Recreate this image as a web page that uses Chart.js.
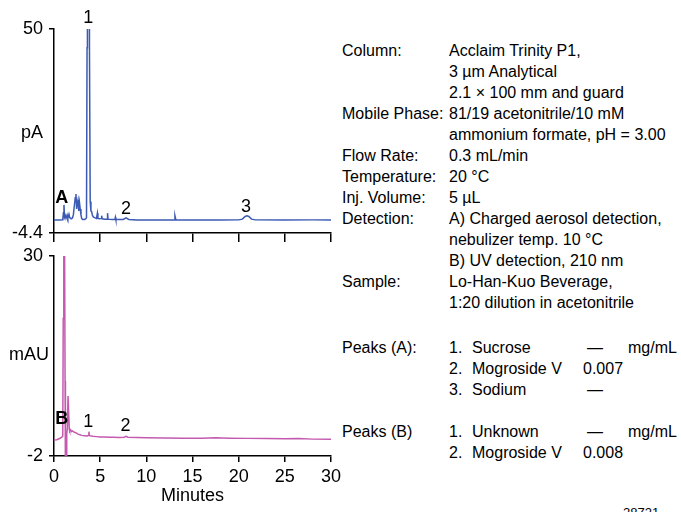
<!DOCTYPE html>
<html>
<head>
<meta charset="utf-8">
<script src="https://cdn.jsdelivr.net/npm/chart.js@4/dist/chart.umd.min.js"></script>
<style>
  html, body { margin: 0; padding: 0; background: #fff; }
  body { width: 681px; height: 512px; position: relative; overflow: hidden;
         font-family: "Liberation Sans", Arial, sans-serif; color: #000; }
  canvas { position: absolute; left: 0; }
  #topChart { top: 0; }
  #bottomChart { top: 245px; }
  .unit { position: absolute; font-size: 18px; line-height: 22px; }
  .panel { position: absolute; left: 342px; font-size: 16px; line-height: 21px; white-space: nowrap; }
  .cond { display: grid; grid-template-columns: 107px auto; }
  .peaks { display: grid; grid-template-columns: 107px 23px 111px 45px auto; }
  .dash { padding-left: 4px; }
  .code { position: absolute; left: 623px; top: 505px; font-size: 13px; }
</style>
</head>
<body>
<canvas id="topChart" width="340" height="245"></canvas>
<canvas id="bottomChart" width="341" height="267"></canvas>

<div class="unit" style="left:21px; top:121px;">pA</div>
<div class="unit" style="left:9px; top:343px;">mAU</div>

<div class="panel cond" style="top:39.5px;">
  <div>Column:</div><div>Acclaim Trinity P1,</div>
  <div></div><div>3 µm Analytical</div>
  <div></div><div>2.1 × 100 mm and guard</div>
  <div>Mobile Phase:</div><div>81/19 acetonitrile/10 mM</div>
  <div></div><div>ammonium formate, pH = 3.00</div>
  <div>Flow Rate:</div><div>0.3 mL/min</div>
  <div>Temperature:</div><div>20 °C</div>
  <div>Inj. Volume:</div><div>5 µL</div>
  <div>Detection:</div><div>A) Charged aerosol detection,</div>
  <div></div><div>nebulizer temp. 10 °C</div>
  <div></div><div>B) UV detection, 210 nm</div>
  <div>Sample:</div><div>Lo-Han-Kuo Beverage,</div>
  <div></div><div>1:20 dilution in acetonitrile</div>
</div>

<div class="panel peaks" style="top:336.5px;">
  <div>Peaks (A):</div><div>1.</div><div>Sucrose</div><div class="dash">—</div><div>mg/mL</div>
  <div></div><div>2.</div><div>Mogroside V</div><div>0.007</div><div></div>
  <div></div><div>3.</div><div>Sodium</div><div class="dash">—</div><div></div>
</div>

<div class="panel peaks" style="top:420.5px;">
  <div>Peaks (B)</div><div>1.</div><div>Unknown</div><div class="dash">—</div><div>mg/mL</div>
  <div></div><div>2.</div><div>Mogroside V</div><div>0.008</div><div></div>
</div>

<div class="code">28721</div>

<script>
// x axis (minutes)
const xTicks = [0, 5, 10, 15, 20, 25, 30];

// A) charged aerosol detection, pA
const topYTicks = [-4.4, 50];
const topTime = [0, 0.5, 0.95, 1.02, 1.08, 1.14, 1.22, 1.3, 1.42, 1.5, 1.62, 1.7, 1.85, 2.0, 2.1, 2.2, 2.3, 2.38,
  2.45, 2.52, 2.6, 2.68, 2.76, 2.84, 2.92, 3.0, 3.1, 3.3, 3.45, 3.52, 3.58, 3.62, 3.8, 3.84, 3.92, 4.0,
  4.08, 4.15, 4.25, 4.4, 4.6, 4.7, 4.76, 4.9, 5.1, 5.16, 5.22, 5.5, 5.75, 5.8, 5.85, 6.3, 6.6, 6.65, 6.7, 7.5,
  7.8, 8.1, 9, 10, 12, 13.0, 13.1, 13.2, 15, 18, 20, 20.4, 20.7, 20.9, 21.1, 21.4, 21.8, 25, 28, 30];
const topSignal = [-0.9, -0.9, -0.85, 1.0, 3.1, -0.2, 0.3, -0.5, 0.4, -0.4, 0.6, -0.3, -0.6, -0.4, 0.5, 2.8, 5.0, 6.0,
  2.0, 3.5, 4.4, 1.5, 3.7, 2.0, 0.4, -0.5, -0.8, -0.8, -0.6, -0.3, 45, 140, 140, 45, 4, 1.5,
  1.3, 0.4, -0.1, -0.3, -0.5, 0.9, -0.5, -0.6, -0.5, 0.2, -0.6, -0.7, -0.7, 0.9, -0.7, -0.8, -0.8, -0.2, -0.8, -0.8,
  -0.35, -0.8, -0.9, -0.9, -0.9, -0.9, 0.2, -0.9, -0.95, -0.95, -0.9, -0.7, 0.0, 0.2, 0.0, -0.7, -0.9, -0.95, -0.9, -0.9];
const topLabels = ['A', '1', '2', '3'];
const topLabelX = [0.83, 3.72, 7.8, 20.8];
const topLabelY = [4.9, 52.9, 2.0, 2.6];

// B) UV detection, mAU
const bottomYTicks = [-2, 30];
const bottomTime = [0, 0.3, 0.6, 0.85, 0.95, 1.0, 1.06, 1.14, 1.2, 1.24, 1.34, 1.38, 1.45, 1.52, 1.6, 1.66, 1.7,
  1.8, 1.9, 2.0, 2.2, 2.4, 2.6, 2.8, 3.0, 3.3, 3.6, 3.72, 3.78, 3.84, 4.2, 4.6, 5.0, 5.5, 6.0, 6.5, 7.0, 7.6,
  7.8, 8.0, 9, 10, 12, 14, 16, 17.5, 19, 21, 23, 25, 26.5, 28, 30];
const bottomSignal = [0.55, 0.6, 0.8, 1.0, 1.2, 20, 34, 34, 10, -6, -6, 1.5, 2.5, 7.6, 7.6, 2.2, 2.0,
  2.2, 1.9, 2.0, 1.8, 1.7, 1.5, 1.4, 1.3, 1.25, 1.2, 1.3, 1.9, 1.25, 1.15, 1.1, 1.05, 1.05, 1.0, 1.0, 0.95, 1.0,
  1.15, 1.0, 0.95, 0.92, 0.88, 0.85, 0.85, 0.9, 0.85, 0.82, 0.8, 0.75, 0.8, 0.7, 0.67];
const bottomLabels = ['B', '1', '2'];
const bottomLabelX = [0.83, 3.7, 7.75];
const bottomLabelY = [3.9, 3.5, 2.8];

Chart.defaults.font.family = '"Liberation Sans", Arial, sans-serif';
Chart.defaults.color = '#000';

const peakLabels = {
  id: 'peakLabels',
  afterDatasetsDraw(chart, args, opts) {
    const { ctx, scales: { x, y } } = chart;
    ctx.save();
    ctx.fillStyle = '#000';
    ctx.textAlign = 'center';
    ctx.textBaseline = 'middle';
    opts.text.forEach((t, i) => {
      ctx.font = (/[A-Z]/.test(t) ? 'bold ' : '') + '18px "Liberation Sans", Arial, sans-serif';
      ctx.fillText(t, x.getPixelForValue(opts.xs[i]), y.getPixelForValue(opts.ys[i]));
    });
    ctx.restore();
  }
};

// the labels may hang past the plot edges, don't let them push the plot area in
function noPadding(s) {
  s.paddingTop = s.paddingBottom = s.paddingLeft = s.paddingRight = 0;
}

function makeChart(id, times, values, color, yTicks, xLabels, labels, padTop, xHeight) {
  const canvas = document.getElementById(id);
  return new Chart(canvas, {
    type: 'line',
    data: {
      datasets: [{
        data: times.map((t, i) => ({ x: t, y: values[i] })),
        borderColor: color,
        borderWidth: 1.5,
        pointRadius: 0,
        tension: 0,
        fill: false
      }]
    },
    options: {
      responsive: false,
      animation: false,
      events: [],
      layout: { padding: { top: padTop, right: canvas.width - 331, left: 0, bottom: 0 } },
      plugins: {
        legend: { display: false },
        tooltip: { enabled: false },
        peakLabels: labels
      },
      scales: {
        x: {
          type: 'linear',
          min: 0, max: 30,
          afterBuildTicks: s => { s.ticks = xTicks.map(v => ({ value: v })); },
          afterFit: s => { s.height = xHeight; noPadding(s); },
          border: { display: true, color: '#000', width: 1.5 },
          grid: { drawOnChartArea: false, drawTicks: true, tickLength: xLabels ? 6 : 9, color: '#000', lineWidth: 1.5 },
          ticks: { display: xLabels, padding: 4, maxRotation: 0, font: { size: 18 }, callback: v => String(v) },
          title: { display: xLabels, text: 'Minutes', font: { size: 18 }, padding: { top: 0, bottom: 5 } }
        },
        y: {
          min: yTicks[0], max: yTicks[yTicks.length - 1],
          afterBuildTicks: s => { s.ticks = yTicks.map(v => ({ value: v })); },
          afterFit: s => { s.width = 54; noPadding(s); },
          border: { display: true, color: '#000', width: 1.5 },
          grid: { drawOnChartArea: false, drawTicks: true, tickLength: 5, color: '#000', lineWidth: 1.5 },
          ticks: { padding: 6, font: { size: 18 }, callback: v => String(v) }
        }
      }
    },
    plugins: [peakLabels]
  });
}

makeChart('topChart', topTime, topSignal, '#3c5ab4', topYTicks, false,
  { text: topLabels, xs: topLabelX, ys: topLabelY }, 29, 245 - 233);
makeChart('bottomChart', bottomTime, bottomSignal, '#c45ab0', bottomYTicks, true,
  { text: bottomLabels, xs: bottomLabelX, ys: bottomLabelY }, 11, 267 - (456 - 245));
</script>
</body>
</html>
